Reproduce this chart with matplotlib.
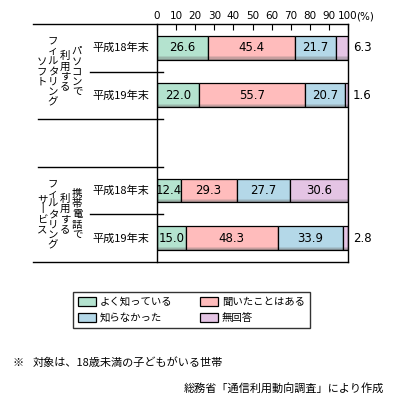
import matplotlib
matplotlib.use("Agg")
import matplotlib.pyplot as plt
import matplotlib.patches as mpatches
import numpy as np

plt.rcParams['font.family'] = ['Noto Sans CJK JP', 'DejaVu Sans']

# Data
row_labels = ["平成18年末", "平成19年末", "", "平成18年末", "平成19年末"]
answers    = ["よく知っている", "聞いたことはある", "知らなかった", "無回答"]
colors     = ["#b4e3cf", "#ffbcbc", "#b4d8e8", "#e4c4e4"]

pc_h18     = [26.6, 45.4, 21.7, 6.3]
pc_h19     = [22.0, 55.7, 20.7, 1.6]
mobile_h18 = [12.4, 29.3, 27.7, 30.6]
mobile_h19 = [15.0, 48.3, 33.9, 2.8]

rows = [pc_h18, pc_h19, None, mobile_h18, mobile_h19]

group1_cols = ["パソコンで", "利用する", "フィルタリング", "ソフト"]
group2_cols = ["携帯電話で", "利用する", "フィルタリング", "サ丨ビス"]

W, H = 395, 409
fig = plt.figure(figsize=(W / 100, H / 100), dpi=100)
ax = fig.add_axes([157 / W, 1 - 262 / H, 191 / W, 238 / H])

bar_h = 0.5


def shade(c, f):
    rgb = np.array(matplotlib.colors.to_rgb(c))
    gray = np.array([0.45, 0.45, 0.45])
    return tuple(rgb * (1 - f) + gray * f)


for i, vals in enumerate(rows):
    if vals is None:
        continue
    left = 0.0
    for v, c in zip(vals, colors):
        ax.barh(i, v, left=left, height=bar_h, color=c, edgecolor="none")
        # darker gradient at the bottom of each bar
        for k, f in enumerate([0.2, 0.4, 0.6]):
            ax.barh(i + bar_h / 2 - 0.025 * (3 - k), v, left=left, height=0.025,
                    align="edge", color=shade(c, f), edgecolor="none")
        ax.barh(i, v, left=left, height=bar_h, color="none",
                edgecolor="black", linewidth=0.9)
        if v >= 10:
            ax.text(left + v / 2, i, f"{v:.1f}", ha="center", va="center",
                    fontsize=8.5, family="DejaVu Sans")
        left += v
    if vals[-1] < 10:
        ax.text(102.5, i, f"{vals[-1]:.1f}", ha="left", va="center",
                fontsize=8.5, family="DejaVu Sans")
    ax.text(-0.04, i, row_labels[i], transform=ax.get_yaxis_transform(),
            ha="right", va="center", fontsize=8)

ax.set_xlim(0, 100)
ax.set_ylim(4.5, -0.5)
ax.xaxis.tick_top()
ax.set_xticks(np.arange(0, 101, 10))
ax.set_xticklabels([str(t) for t in range(0, 101, 10)], family="DejaVu Sans")
ax.tick_params(axis="x", direction="in", length=4, width=0.8, labelsize=7.5, pad=2)
ax.set_yticks([])
ax.text(104.5, -0.5, "(%)", ha="left", va="bottom", fontsize=7.5,
        family="DejaVu Sans", clip_on=False,
        transform=matplotlib.transforms.offset_copy(ax.transData, fig=fig, y=2, units="points"))
for s in ["top", "bottom"]:
    ax.spines[s].set_visible(False)
ax.spines["left"].set_linewidth(1)
ax.spines["right"].set_linewidth(1)

# horizontal rules extending to the left
tr = ax.get_yaxis_transform()


def px(x):
    return (x - 157) / 191


ax.plot([px(33), 1], [-0.5, -0.5], color="black", lw=1, transform=tr, clip_on=False)
ax.plot([px(33), 1], [4.5, 4.5], color="black", lw=1, transform=tr, clip_on=False)
for y, x0 in [(0.5, 90), (1.5, 38), (2.5, 38), (3.5, 90)]:
    ax.plot([px(x0), px(163)], [y, y], color="black", lw=1, transform=tr, clip_on=False)

# vertical group labels (columns read right to left)
col_x = [77, 65, 53, 42]
for cols, yc in [(group1_cols, 0.5), (group2_cols, 3.5)]:
    for txt, x in zip(cols, col_x):
        ax.text(px(x), yc, "\n".join(txt), transform=tr, ha="center", va="center",
                fontsize=7.5, linespacing=1.03)

# legend (row-wise order: fill columns in 0,2 / 1,3 order)
order = [0, 2, 1, 3]
handles = [mpatches.Patch(facecolor=colors[k], edgecolor="black", linewidth=0.9) for k in order]
labels = [answers[k] for k in order]
leg = fig.legend(handles, labels, loc="upper left", ncol=2,
                 bbox_to_anchor=(73 / W, 1 - 292 / H), fontsize=7.5,
                 frameon=True, fancybox=False, edgecolor="black",
                 handlelength=1.7, handleheight=0.9, handletextpad=0.4,
                 columnspacing=2.6, labelspacing=0.55, borderpad=0.5,
                 borderaxespad=0)
leg.get_frame().set_linewidth(1)

fig.text(12 / W, 1 - 363 / H, "※", fontsize=8, va="center")
fig.text(33 / W, 1 - 363 / H, "対象は、18歳未満の子どもがいる世帯", fontsize=8, va="center")
fig.text(384 / W, 1 - 388 / H, "総務省「通信利用動向調査」により作成", fontsize=8,
         va="center", ha="right")

fig.savefig("out.png", dpi=100)
